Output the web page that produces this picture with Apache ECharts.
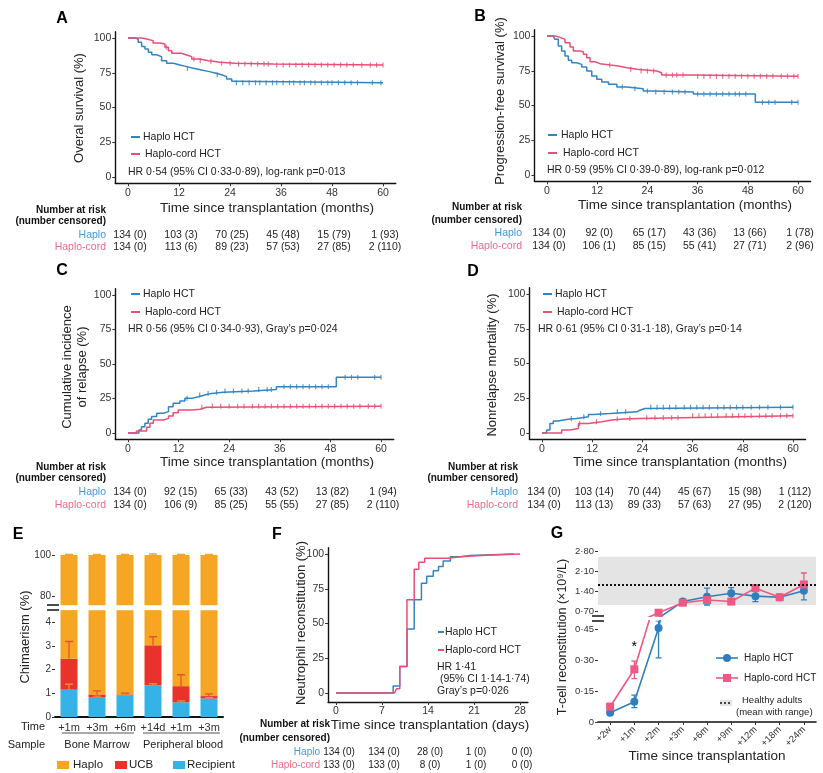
<!DOCTYPE html>
<html>
<head>
<meta charset="utf-8">
<script src="https://cdn.jsdelivr.net/npm/echarts@6/dist/echarts.min.js"></script>
<style>
  html, body { margin: 0; padding: 0; background: #fff; }
  #chart { width: 823px; height: 773px; }
</style>
</head>
<body>
<div id="chart"></div>
<script>
// --- A: overall survival (months, %) ---
const osHaploT = [0, 1.6, 2.4, 3.2, 4.0, 4.8, 5.6, 6.7, 7.9, 9.1, 10.7, 12.2, 13.8, 15.4, 17.3, 18.9, 20.5, 22.0, 23.2, 24.4, 25.2, 60];
const osHaploS = [100, 99.3, 96.9, 93.8, 92.1, 89.7, 88.0, 86.6, 83.7, 81.8, 80.6, 79.4, 78.2, 77.0, 76.0, 74.8, 73.6, 72.2, 70.5, 68.8, 67.8, 67.8];
const osHaploC = [14, 21, 25.5, 27, 28.5, 30, 31, 32.5, 34, 35, 36.5, 38, 39, 40.5, 41.5, 43, 44, 45.5, 47, 48, 49.5, 51, 52.5, 54, 57.5, 59.5];
const osCordT = [0, 3.2, 4.4, 5.9, 7.5, 8.7, 9.5, 10.3, 12.6, 13.8, 15.0, 16.9, 18.9, 20.1, 21.6, 25.2, 34.2, 60];
const osCordS = [100, 99.3, 98.1, 96.4, 95.7, 93.3, 90.9, 89.0, 87.8, 86.6, 84.9, 83.7, 83.2, 82.5, 81.8, 81.3, 80.6, 80.6];
const osCordC = [9, 15.5, 17, 19.5, 22, 24, 26, 27.5, 29, 30.5, 32, 33, 35, 36.5, 38, 39.5, 41, 42.5, 44, 45.5, 47, 48.5, 50, 51.5, 53, 55, 57, 58.5, 60];

// --- B: progression-free survival ---
const pfsHaploT = [0, 1.5, 1.9, 2.7, 3.5, 4.3, 5.1, 5.9, 7.1, 8.3, 9.5, 10.7, 11.9, 13.1, 14.7, 16.7, 19.1, 23.0, 25.4, 35.0, 49.8, 60];
const pfsHaploS = [100, 99, 97.6, 92.8, 89.2, 85.6, 82.5, 80.8, 79.6, 77.7, 74.8, 71.2, 68.8, 66.9, 65.2, 63.3, 62.1, 60.4, 59.7, 58.2, 52.3, 52.3];
const pfsHaploC = [18, 21, 24, 26, 28, 30, 31.5, 33, 36, 37.5, 39, 40.5, 42, 43.5, 45, 46, 47.5, 51.5, 53, 54.5, 58.5, 60];
const pfsCordT = [0, 1.9, 3.1, 4.3, 5.5, 6.3, 7.9, 8.7, 9.5, 10.3, 11.5, 12.7, 15.1, 17.1, 19.1, 21.5, 26.2, 27.4, 34.2, 60];
const pfsCordS = [100, 99, 97.6, 95.2, 92.1, 89.2, 88.7, 86.8, 84.4, 81.5, 80.1, 79.1, 78.4, 77.2, 76.0, 74.8, 73.6, 71.9, 71.0, 71.0];
const pfsCordC = [15, 20, 22.5, 24, 25.5, 28.5, 30, 31, 32.5, 36, 37.5, 39, 40.5, 42, 43.5, 45, 46.5, 48, 49.5, 51, 52.5, 54, 56, 57.5, 59, 60];

// --- C: cumulative incidence of relapse ---
const relHaploT = [0, 1.2, 2.6, 3.2, 4.0, 4.8, 5.6, 6.8, 8.4, 9.6, 10.7, 12.3, 13.5, 15.1, 16.7, 18.2, 19.8, 22.6, 29.7, 35.2, 49.4, 60];
const relHaploS = [0, 0, 2.2, 4.6, 7.0, 10.0, 11.9, 14.3, 15.5, 19.1, 21.5, 23.2, 25.1, 26.3, 27.5, 28.7, 29.5, 30.4, 31.6, 33.6, 40.4, 40.4];
const relHaploC = [14, 17, 19, 21, 23, 25, 27, 28.5, 31, 33, 34, 37, 38.5, 40, 41.5, 43, 44.5, 46, 47.5, 51.5, 53, 54.5, 58.5, 60];
const relCordT = [0, 2.0, 4.4, 5.2, 6.0, 8.4, 9.6, 10.7, 11.9, 15.1, 17.1, 18.6, 60];
const relCordS = [0, 1.5, 4.1, 7.0, 9.4, 10.6, 12.3, 14.7, 16.7, 17.2, 18.6, 19.3, 19.3];
const relCordC = [17.5, 20, 22, 24, 26, 27.5, 29.5, 31, 32.5, 34, 35.5, 37, 38.5, 40, 41.5, 43, 44.5, 46, 47.5, 49, 50.5, 52, 53.5, 55, 57, 58.5, 60];

// --- D: nonrelapse mortality ---
const nrmHaploT = [0, 1.1, 1.9, 2.7, 3.9, 5.1, 6.7, 8.3, 11.1, 12.3, 16.3, 22.7, 23.4, 24.6, 60];
const nrmHaploS = [0, 2.1, 6.9, 8.6, 9.3, 10.0, 10.5, 11.7, 13.3, 14.0, 15.2, 16.4, 17.6, 18.5, 18.5];
const nrmHaploC = [7, 10, 14, 18, 20, 26, 27.5, 29, 30.5, 32, 34, 35.5, 37, 38.5, 40, 42, 43.5, 45, 46.5, 48, 50, 52, 54, 57, 60];
const nrmCordT = [0, 4.7, 6.7, 8.7, 11.1, 14.3, 16.7, 19.5, 23.4, 33.4, 60];
const nrmCordS = [0, 2.1, 3.3, 6.9, 8.1, 9.3, 10.0, 10.5, 11.0, 12.4, 12.4];
const nrmCordC = [9, 13, 18, 21, 25, 27, 29, 31, 32.5, 36, 37.5, 39, 40.5, 42, 44, 45.5, 47, 48.5, 50, 52, 53.5, 55, 57, 58.5, 60];

const monthTicks = [0, 12, 24, 36, 48, 60];
const pctTicks = [0, 25, 50, 75, 100];

// number at risk (number censored)
const riskAHaplo = ['134 (0)', '103 (3)', '70 (25)', '45 (48)', '15 (79)', '1 (93)'];
const riskACord = ['134 (0)', '113 (6)', '89 (23)', '57 (53)', '27 (85)', '2 (110)'];
const riskBHaplo = ['134 (0)', '92 (0)', '65 (17)', '43 (36)', '13 (66)', '1 (78)'];
const riskBCord = ['134 (0)', '106 (1)', '85 (15)', '55 (41)', '27 (71)', '2 (96)'];
const riskCHaplo = ['134 (0)', '92 (15)', '65 (33)', '43 (52)', '13 (82)', '1 (94)'];
const riskCCord = ['134 (0)', '106 (9)', '85 (25)', '55 (55)', '27 (85)', '2 (110)'];
const riskDHaplo = ['134 (0)', '103 (14)', '70 (44)', '45 (67)', '15 (98)', '1 (112)'];
const riskDCord = ['134 (0)', '113 (13)', '89 (33)', '57 (63)', '27 (95)', '2 (120)'];

// --- E: chimaerism ---
const chimTime = ['+1m', '+3m', '+6m', '+14d', '+1m', '+3m'];
const chimRecipient = [1.15, 0.82, 0.92, 1.33, 0.62, 0.78];
const chimUCB = [1.30, 0.13, 0.03, 1.69, 0.68, 0.10];
const chimHaplo = [97.55, 99.05, 99.05, 96.98, 98.70, 99.12];
const chimRecipientErr = [1.38, 0.88, 0.95, 1.40, 0.68, 0.82];
const chimUCBErr = [3.18, 1.10, 1.00, 3.38, 1.78, 0.97];
const chimHaploErr = [100.3, 100.3, 100.3, 100.5, 100.3, 100.3];

// --- F: neutrophil reconstitution (days, %) ---
const dayTicks = [0, 7, 14, 21, 28];
const neuHaploT = [0, 8.7, 9.7, 10.8, 11.9, 13.0, 13.8, 14.8, 15.6, 16.3, 17.4, 18.9, 20.4, 27];
const neuHaploS = [0, 5, 19, 46, 67, 79, 84, 88, 91, 95, 98, 99, 100, 100];
const neuCordT = [0, 8.9, 9.2, 9.7, 10.8, 11.9, 12.6, 13.5, 17.0, 19.0, 22.0, 28];
const neuCordS = [0, 1, 3, 19, 67, 89, 94, 97, 98, 99, 100, 100];
const riskFHaplo = ['134 (0)', '134 (0)', '28 (0)', '1 (0)', '0 (0)'];
const riskFCord = ['133 (0)', '133 (0)', '8 (0)', '1 (0)', '0 (0)'];

// --- G: T-cell reconstitution (x10^9/L) ---
const tTimes = ['+2w', '+1m', '+2m', '+3m', '+6m', '+9m', '+12m', '+18m', '+24m'];
const tHaplo = [0.045, 0.098, 0.455, 1.03, 1.2, 1.32, 1.22, 1.18, 1.41];
const tHaploLo = [0.035, 0.07, 0.31, 0.95, 0.91, 1.1, 1.03, 1.1, 1.09];
const tHaploHi = [0.055, 0.13, 0.49, 1.1, 1.5, 1.52, 1.41, 1.25, 1.68];
const tCord = [0.074, 0.255, 0.64, 0.99, 1.085, 1.03, 1.5, 1.18, 1.63];
const tCordLo = [0.06, 0.21, 0.6, 0.93, 1.0, 0.98, 1.4, 1.12, 1.45];
const tCordHi = [0.09, 0.295, 0.68, 1.06, 1.15, 1.08, 1.6, 1.25, 2.03];
const healthy = [0.91, 1.61, 2.6]; // min, mean, max
const tTicksLow = [0, 0.15, 0.30, 0.45];
const tTicksHigh = [0.70, 1.40, 2.10, 2.80];

const BLUE = '#3384c2', PINK = '#ea4f75';
const RISK_BLUE = '#3f9ad8', RISK_PINK = '#ef6b8e';
const C_HAP = '#f6a623', C_UCB = '#e8322a', C_REC = '#35b3e6';
const G_BLUE = '#2f7fbe', G_PINK = '#ef5784';
const FONT = 'Liberation Sans, Arial, sans-serif';

const chart = echarts.init(document.getElementById('chart'));

// pixel span of [min,max] given two reference pixels
function span(pA, pB, vA, vB, min, max) {
  const k = (pB - pA) / (vB - vA);
  const p1 = pA + (min - vA) * k, p2 = pA + (max - vA) * k;
  return [Math.min(p1, p2), Math.abs(p2 - p1)];
}
function box(xs, ys) {
  return { left: xs[0], width: xs[1], top: ys[0], height: ys[1], outerBoundsMode: 'none' };
}

const grids = [
  box(span(128, 383, 0, 60, -3, 63), span(177, 38, 0, 100, -4.5, 104.5)),   // A
  box(span(547, 798, 0, 60, -3, 63), span(175, 36, 0, 100, -4.5, 104.5)),   // B
  box(span(128, 381, 0, 60, -3, 63), span(433, 295, 0, 100, -4.5, 104.5)),  // C
  box(span(542, 793, 0, 60, -3, 63), span(433, 294, 0, 100, -4.5, 104.5)),  // D
  box([55, 168], span(596, 555, 80, 100, 75.5, 101.5)),                     // E upper
  box([55, 168], span(717, 622, 0, 4, 0, 4.5)),                             // E lower
  box(span(336, 520, 0, 28, -1.2, 29.2), span(693, 554, 0, 100, -6.5, 104.5)), // F
  box([598, 218], span(611, 551, 0.7, 2.8, 0.52, 2.9)),                     // G upper
  box([598, 218], span(722, 629, 0, 0.45, 0, 0.49))                         // G lower
];

function valAxis(grid, min, max, ticks, o) {
  o = o || {};
  return {
    type: 'value', gridIndex: grid, min: min, max: max, show: o.show !== false,
    axisLine: { onZero: false, lineStyle: { color: '#111', width: o.lw || 1.4 } },
    axisTick: { show: o.tick !== false, length: 3, customValues: ticks, lineStyle: { color: '#333' } },
    axisLabel: { customValues: ticks, color: '#333', fontSize: o.fs || 10.5, fontFamily: FONT, margin: o.margin || 4,
      formatter: o.fmt },
    splitLine: { show: false }
  };
}
function catAxis(grid, data, o) {
  o = o || {};
  return {
    type: 'category', gridIndex: grid, data: data, show: o.show !== false,
    axisLine: { lineStyle: { color: '#111', width: o.lw || 1.6 } },
    axisTick: { show: !!o.tick, alignWithLabel: true, length: 3, lineStyle: { color: '#333' } },
    axisLabel: { color: '#333', fontSize: o.fs || 10.5, fontFamily: FONT, margin: o.margin || 5, rotate: o.rotate || 0, interval: 0 },
    splitLine: { show: false }
  };
}
const dotFmt = v => v === 0 ? '0' : v.toFixed(2).replace('.', '\u00b7');

const xAxes = [
  valAxis(0, -3, 63, monthTicks), valAxis(1, -3, 63, monthTicks),
  valAxis(2, -3, 63, monthTicks), valAxis(3, -3, 63, monthTicks),
  catAxis(4, chimTime, { show: false }),
  catAxis(5, chimTime, { lw: 2, fs: 11, margin: 5 }),
  valAxis(6, -1.2, 29.2, dayTicks),
  catAxis(7, tTimes, { show: false }),
  catAxis(8, tTimes, { lw: 1.6, fs: 9.5, margin: 6, rotate: 45, tick: true })
];
const yAxes = [
  valAxis(0, -4.5, 104.5, pctTicks), valAxis(1, -4.5, 104.5, pctTicks),
  valAxis(2, -4.5, 104.5, pctTicks), valAxis(3, -4.5, 104.5, pctTicks),
  valAxis(4, 75.5, 101.5, [80, 100], { fs: 10, lw: 1.8 }),
  valAxis(5, 0, 4.5, [0, 1, 2, 3, 4], { fs: 10, lw: 1.8 }),
  valAxis(6, -6.5, 104.5, pctTicks),
  valAxis(7, 0.52, 2.9, tTicksHigh, { fs: 9.5, lw: 1.8, fmt: dotFmt }),
  valAxis(8, 0, 0.49, tTicksLow, { fs: 9.5, lw: 1.8, fmt: dotFmt })
];

function stepAt(T, S, t) {
  let v = S[0];
  for (let i = 0; i < T.length; i++) if (T[i] <= t) v = S[i];
  return v;
}

const series = [];
function km(g, T, S, C, color) {
  series.push({ type: 'line', xAxisIndex: g, yAxisIndex: g, step: 'end', symbol: 'none', z: 3,
    data: T.map((t, i) => [t, S[i]]), lineStyle: { color: color, width: 1.5 }, itemStyle: { color: color } });
  if (C) {
    series.push({ type: 'scatter', xAxisIndex: g, yAxisIndex: g, symbol: 'rect', symbolSize: [1.2, 5], z: 4,
      data: C.map(t => [t, stepAt(T, S, t)]), itemStyle: { color: color } });
  }
}
km(0, osHaploT, osHaploS, osHaploC, BLUE);
km(0, osCordT, osCordS, osCordC, PINK);
km(1, pfsHaploT, pfsHaploS, pfsHaploC, BLUE);
km(1, pfsCordT, pfsCordS, pfsCordC, PINK);
km(2, relHaploT, relHaploS, relHaploC, BLUE);
km(2, relCordT, relCordS, relCordC, PINK);
km(3, nrmHaploT, nrmHaploS, nrmHaploC, BLUE);
km(3, nrmCordT, nrmCordS, nrmCordC, PINK);
km(6, neuHaploT, neuHaploS, null, BLUE);
km(6, neuCordT, neuCordS, null, PINK);

// error bar renderer: line from value(1) to value(2), cap at the top (and bottom if both)
function errRender(cap, both) {
  return function (params, api) {
    const i = api.value(0);
    const a = api.coord([i, api.value(1)]);
    const b = api.coord([i, api.value(2)]);
    const st = { stroke: api.visual('color'), lineWidth: 1.3 };
    const kids = [
      { type: 'line', shape: { x1: a[0], y1: a[1], x2: b[0], y2: b[1] }, style: st },
      { type: 'line', shape: { x1: b[0] - cap, y1: b[1], x2: b[0] + cap, y2: b[1] }, style: st }
    ];
    if (both) kids.push({ type: 'line', shape: { x1: a[0] - cap, y1: a[1], x2: a[0] + cap, y2: a[1] }, style: st });
    return { type: 'group', children: kids };
  };
}

// E: stacked chimaerism bars drawn in both halves of the broken axis
[4, 5].forEach(g => {
  const stack = 'chim' + g;
  [[chimRecipient, C_REC], [chimUCB, C_UCB], [chimHaplo, C_HAP]].forEach(p => {
    series.push({ type: 'bar', xAxisIndex: g, yAxisIndex: g, stack: stack, barWidth: 17, clip: true,
      data: p[0], itemStyle: { color: p[1] } });
  });
});
const chimTotal = chimRecipient.map((r, i) => r + chimUCB[i] + chimHaplo[i]);
series.push({ type: 'custom', xAxisIndex: 4, yAxisIndex: 4, clip: true, z: 5, itemStyle: { color: '#f0a43a' },
  renderItem: errRender(4), data: chimHaploErr.map((e, i) => [i, chimTotal[i], e]) });
series.push({ type: 'custom', xAxisIndex: 5, yAxisIndex: 5, clip: true, z: 5, itemStyle: { color: '#e0552e' },
  renderItem: errRender(4), data: chimUCBErr.map((e, i) => [i, chimRecipient[i] + chimUCB[i], e]) });
series.push({ type: 'custom', xAxisIndex: 5, yAxisIndex: 5, clip: true, z: 5, itemStyle: { color: '#f08a3c' },
  renderItem: errRender(4), data: chimRecipientErr.map((e, i) => [i, chimRecipient[i], e]) });

// G: T-cell reconstitution in both halves of the broken axis
[7, 8].forEach(g => {
  [[tHaplo, tHaploLo, tHaploHi, G_BLUE, 'circle'], [tCord, tCordLo, tCordHi, G_PINK, 'rect']].forEach(p => {
    series.push({ type: 'custom', xAxisIndex: g, yAxisIndex: g, clip: true, z: 2, itemStyle: { color: p[3] },
      renderItem: errRender(3, true), data: p[1].map((lo, i) => [i, lo, p[2][i]]) });
    series.push({ type: 'line', xAxisIndex: g, yAxisIndex: g, clip: true, z: 3, data: p[0],
      symbol: p[4], symbolSize: 8, showAllSymbol: true,
      lineStyle: { color: p[3], width: 1.6 }, itemStyle: { color: p[3] } });
  });
});
series.push({ type: 'line', xAxisIndex: 7, yAxisIndex: 7, data: [], z: 1,
  markArea: { silent: true, itemStyle: { color: '#e4e4e4' }, data: [[{ yAxis: healthy[0] }, { yAxis: healthy[2] }]] },
  markLine: { silent: true, symbol: 'none', label: { show: false },
    lineStyle: { color: '#111', width: 2, type: [2, 2] }, data: [{ yAxis: healthy[1] }] } });

chart.setOption({
  animation: false,
  backgroundColor: '#fff',
  textStyle: { fontFamily: FONT },
  grid: grids,
  xAxis: xAxes,
  yAxis: yAxes,
  series: series
});

// ---- text, legends and risk tables ----
function text(x, y, s, o) {
  o = o || {};
  return { type: 'text', x: x, y: y, rotation: o.rot || 0, silent: true, z: 10,
    style: { text: s, fill: o.fill || '#222', fontSize: o.size || 10.5, fontFamily: FONT,
      fontWeight: o.weight || 'normal', align: o.align || 'left', verticalAlign: 'middle' } };
}
function hline(x1, x2, y, color, w, dash) {
  return { type: 'line', silent: true, z: 10, shape: { x1: x1, y1: y, x2: x2, y2: y },
    style: { stroke: color, lineWidth: w || 2, lineDash: dash || null } };
}
const gr = [];
const V = Math.PI / 2;

// panel letters
[['A', 62, 19], ['B', 480, 17], ['C', 62, 271], ['D', 473, 272], ['E', 18, 535], ['F', 277, 535], ['G', 557, 534]]
  .forEach(l => gr.push(text(l[1], l[2], l[0], { size: 16, weight: 'bold', align: 'center', fill: '#000' })));

// axis titles
gr.push(text(79, 108, 'Overal survival (%)', { rot: V, size: 13, align: 'center' }));
gr.push(text(267, 208, 'Time since transplantation (months)', { size: 13.5, align: 'center' }));
gr.push(text(500, 101, 'Progression-free survival (%)', { rot: V, size: 13, align: 'center' }));
gr.push(text(685, 205, 'Time since transplantation (months)', { size: 13.5, align: 'center' }));
gr.push(text(67, 367, 'Cumulative incidence', { rot: V, size: 13, align: 'center' }));
gr.push(text(82, 367, 'of relapse (%)', { rot: V, size: 13, align: 'center' }));
gr.push(text(267, 462, 'Time since transplantation (months)', { size: 13.5, align: 'center' }));
gr.push(text(492, 365, 'Nonrelapse mortality (%)', { rot: V, size: 13, align: 'center' }));
gr.push(text(680, 462, 'Time since transplantation (months)', { size: 13.5, align: 'center' }));
gr.push(text(301, 623, 'Neutrophil reconstitution (%)', { rot: V, size: 13, align: 'center' }));
gr.push(text(430, 725, 'Time since transplantation (days)', { size: 13.5, align: 'center' }));
gr.push(text(25, 637, 'Chimaerism (%)', { rot: V, size: 13, align: 'center' }));
gr.push(text(563, 637, 'T-cell reconstitution (\u00d710\u2079/L)', { rot: V, size: 12.5, align: 'center' }));
gr.push(text(707, 756, 'Time since transplantation', { size: 13.5, align: 'center' }));

// KM legends
function kmLegend(xd, xt, y1, y2, xh, yh, hr) {
  gr.push(hline(xd, xd + 9, y1, BLUE, 2));
  gr.push(text(xt, y1, 'Haplo HCT'));
  gr.push(hline(xd, xd + 9, y2, PINK, 2));
  gr.push(text(xt + 2, y2, 'Haplo-cord HCT'));
  gr.push(text(xh, yh, hr));
}
kmLegend(131, 143, 137, 154, 128, 172, 'HR 0\u00b754 (95% CI 0\u00b733-0\u00b789), log-rank p=0\u00b7013');
kmLegend(548, 561, 135, 153, 547, 170, 'HR 0\u00b759 (95% CI 0\u00b739-0\u00b789), log-rank p=0\u00b7012');
kmLegend(131, 143, 294, 312, 128, 329, 'HR 0\u00b756 (95% CI 0\u00b734-0\u00b793), Gray\u2019s p=0\u00b7024');
kmLegend(543, 555, 294, 312, 538, 329, 'HR 0\u00b761 (95% CI 0\u00b731-1\u00b718), Gray\u2019s p=0\u00b714');
gr.push(hline(438, 444, 632, BLUE, 2));
gr.push(text(445, 632, 'Haplo HCT'));
gr.push(hline(438, 444, 650, PINK, 2));
gr.push(text(445, 650, 'Haplo-cord HCT'));
gr.push(text(437, 667, 'HR 1\u00b741'));
gr.push(text(437, 679, ' (95% CI 1\u00b714-1\u00b774)'));
gr.push(text(437, 691, 'Gray\u2019s p=0\u00b7026'));

// risk tables
function riskTable(axis, ticks, rowH, rowC, right, ys, fs, shift) {
  gr.push(text(right, ys[0], 'Number at risk', { align: 'right', weight: 'bold', size: 10, fill: '#111' }));
  gr.push(text(right, ys[1], '(number censored)', { align: 'right', weight: 'bold', size: 10, fill: '#111' }));
  const lr = right - (shift || 0);
  gr.push(text(lr, ys[2], 'Haplo', { align: 'right', fill: RISK_BLUE, size: fs }));
  gr.push(text(lr, ys[3], 'Haplo-cord', { align: 'right', fill: RISK_PINK, size: fs }));
  ticks.forEach((t, i) => {
    const x = chart.convertToPixel({ xAxisIndex: axis }, t) + (i === 0 && shift ? 3 : 2);
    gr.push(text(x, ys[2], rowH[i], { align: 'center', size: fs }));
    gr.push(text(x, ys[3], rowC[i], { align: 'center', size: fs }));
  });
}
riskTable(0, monthTicks, riskAHaplo, riskACord, 106, [210, 221, 235, 247]);
riskTable(1, monthTicks, riskBHaplo, riskBCord, 522, [207, 220, 233, 246]);
riskTable(2, monthTicks, riskCHaplo, riskCCord, 106, [467, 478, 492, 505]);
riskTable(3, monthTicks, riskDHaplo, riskDCord, 518, [467, 478, 492, 505]);
riskTable(6, dayTicks, riskFHaplo, riskFCord, 330, [724, 738, 752, 765], 10, 10);

// E: axis break, sample annotation and legend
gr.push(hline(47, 59, 605, '#111', 1.5));
gr.push(hline(47, 59, 610, '#111', 1.5));
gr.push(text(45, 727, 'Time', { align: 'right', size: 11 }));
gr.push(text(45, 745, 'Sample', { align: 'right', size: 11 }));
gr.push(hline(62, 134, 733, '#555', 1));
gr.push(hline(143, 220, 733, '#555', 1));
gr.push(text(97, 745, 'Bone Marrow', { align: 'center', size: 11 }));
gr.push(text(183, 745, 'Peripheral blood', { align: 'center', size: 11 }));
[[57, 73, C_HAP, 'Haplo'], [115, 129, C_UCB, 'UCB'], [173, 187, C_REC, 'Recipient']].forEach(l => {
  gr.push({ type: 'rect', silent: true, z: 10, shape: { x: l[0], y: 761, width: 12, height: 8 }, style: { fill: l[2] } });
  gr.push(text(l[1], 765, l[3], { size: 11.5 }));
});

// G: axis break, asterisk and legend
gr.push(hline(592, 604, 616, '#111', 1.5));
gr.push(hline(592, 604, 621, '#111', 1.5));
const star = chart.convertToPixel({ xAxisIndex: 8, yAxisIndex: 8 }, [1, 0.36]);
gr.push(text(star[0], star[1], '*', { align: 'center', size: 14, fill: '#000' }));
gr.push(hline(716, 738, 658, G_BLUE, 1.6));
gr.push({ type: 'circle', silent: true, z: 10, shape: { cx: 727, cy: 658, r: 4 }, style: { fill: G_BLUE } });
gr.push(text(744, 658, 'Haplo HCT', { size: 10 }));
gr.push(hline(716, 738, 678, G_PINK, 1.6));
gr.push({ type: 'rect', silent: true, z: 10, shape: { x: 723, y: 674, width: 8, height: 8 }, style: { fill: G_PINK } });
gr.push(text(744, 678, 'Haplo-cord HCT', { size: 10 }));
gr.push({ type: 'rect', silent: true, z: 10, shape: { x: 720, y: 700, width: 12, height: 6 }, style: { fill: '#e4e4e4' } });
gr.push(hline(720, 732, 703, '#111', 1.5, [2, 2]));
gr.push(text(742, 700, 'Healthy adults', { size: 9.5 }));
gr.push(text(736, 712, '(mean with range)', { size: 9.5 }));

chart.setOption({ graphic: gr });
</script>
</body>
</html>
